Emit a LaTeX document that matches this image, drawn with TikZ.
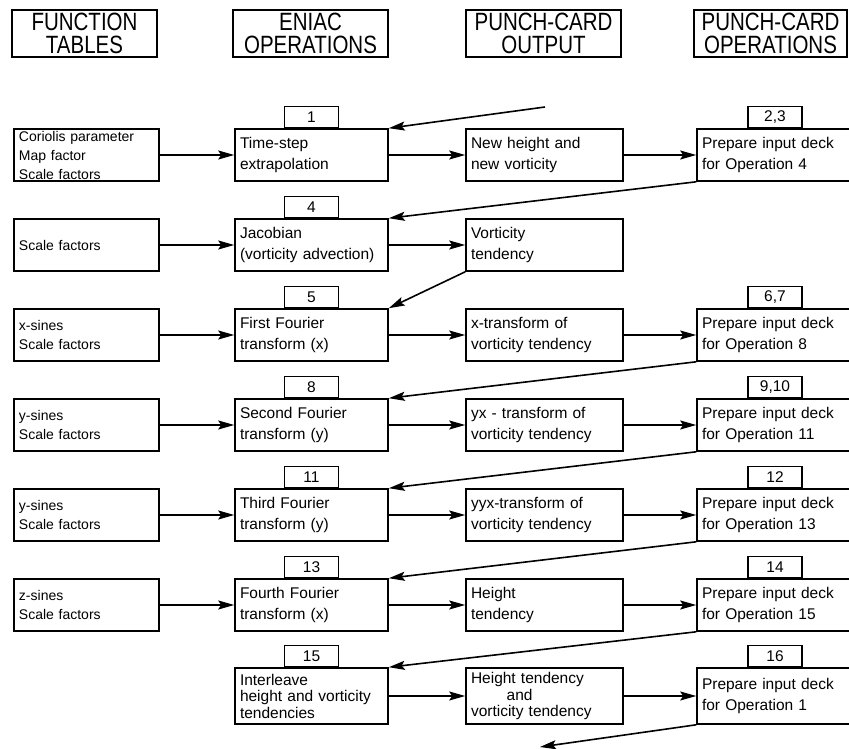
\documentclass[tikz,border=0pt]{standalone}
\usepackage{fontspec}
\setmainfont{Liberation Sans}
\newfontfamily\headfont[FakeStretch=0.82]{Liberation Sans}
\usetikzlibrary{arrows.meta, positioning}
\newcommand{\opfont}{\fontsize{15.5}{21}\selectfont}
\newcommand{\tabfont}{\fontsize{14}{19}\selectfont}
\newcommand{\tightfont}{\fontsize{15.5}{16.5}\selectfont}

\begin{document}
\begin{tikzpicture}[x=1pt, y=-1pt,
        box/.style={draw, line width=1.6pt, minimum height=52pt, inner xsep=5pt, inner ysep=2pt, align=left, font=\opfont},
        tabbox/.style={box, text width=135pt, font=\tabfont},
        eniacbox/.style={box, text width=143pt},
        cardbox/.style={box, text width=147pt},
        deckbox/.style={box, text width=146pt},
        numbox/.style={draw, line width=1.6pt, minimum width=54pt, minimum height=21pt, inner sep=0pt, anchor=south, font=\opfont},
        headbox/.style={draw, line width=1.6pt, minimum height=47pt, inner sep=0pt, align=center, font=\headfont\fontsize{25}{23.5}\selectfont},
        arrow/.style={-{Stealth[length=16pt, width=9pt, inset=3pt]}, line width=1.6pt}
    ]
        \useasboundingbox (0,0) rectangle (849,749);
        \clip (0,0) rectangle (849,749);

        % Column headings
        \node[headbox, minimum width=145pt] (htab) at (84.5,33.5) {FUNCTION\\TABLES};
        \node[headbox, minimum width=155pt] (heniac) at (310.5,33.5) {ENIAC\\OPERATIONS};
        \node[headbox, minimum width=155pt] (hcard) at (543.5,33.5) {PUNCH-CARD\\OUTPUT};
        \node[headbox, minimum width=153pt] (hdeck) at (770.5,33.5) {PUNCH-CARD\\OPERATIONS};

        % Row 1
        \node[tabbox] (tab1) at (86.5,155) {Coriolis parameter\\Map factor\\Scale factors};
        \node[eniacbox] (op1) at (311.5,155) {Time-step\\extrapolation};
        \node[numbox] (n1) at (op1.north) {1};
        \node[cardbox] (card1) at (544.5,155) {New height and\\new vorticity};
        \node[deckbox] (deck1) at (775,155) {Prepare input deck\\for Operation 4};
        \node[numbox] (n23) at (deck1.north) {2,3};

        % Row 2
        \node[tabbox] (tab2) at (86.5,245) {Scale factors};
        \node[eniacbox] (op4) at (311.5,245) {Jacobian\\(vorticity advection)};
        \node[numbox] (n4) at (op4.north) {4};
        \node[cardbox] (card2) at (544.5,245) {Vorticity\\tendency};

        % Row 3
        \node[tabbox] (tab3) at (86.5,335) {x-sines\\Scale factors};
        \node[eniacbox] (op5) at (311.5,335) {First Fourier\\transform (x)};
        \node[numbox] (n5) at (op5.north) {5};
        \node[cardbox] (card3) at (544.5,335) {x-transform of\\vorticity tendency};
        \node[deckbox] (deck3) at (775,335) {Prepare input deck\\for Operation 8};
        \node[numbox] (n67) at (deck3.north) {6,7};

        % Row 4
        \node[tabbox] (tab4) at (86.5,425) {y-sines\\Scale factors};
        \node[eniacbox] (op8) at (311.5,425) {Second Fourier\\transform (y)};
        \node[numbox] (n8) at (op8.north) {8};
        \node[cardbox] (card4) at (544.5,425) {yx - transform of\\vorticity tendency};
        \node[deckbox] (deck4) at (775,425) {Prepare input deck\\for Operation 11};
        \node[numbox] (n910) at (deck4.north) {9,10};

        % Row 5
        \node[tabbox] (tab5) at (86.5,515) {y-sines\\Scale factors};
        \node[eniacbox] (op11) at (311.5,515) {Third Fourier\\transform (y)};
        \node[numbox] (n11) at (op11.north) {11};
        \node[cardbox] (card5) at (544.5,515) {yyx-transform of\\vorticity tendency};
        \node[deckbox] (deck5) at (775,515) {Prepare input deck\\for Operation 13};
        \node[numbox] (n12) at (deck5.north) {12};

        % Row 6
        \node[tabbox] (tab6) at (86.5,605) {z-sines\\Scale factors};
        \node[eniacbox] (op13) at (311.5,605) {Fourth Fourier\\transform (x)};
        \node[numbox] (n13) at (op13.north) {13};
        \node[cardbox] (card6) at (544.5,605) {Height\\tendency};
        \node[deckbox] (deck6) at (775,605) {Prepare input deck\\for Operation 15};
        \node[numbox] (n14) at (deck6.north) {14};

        % Row 7
        \node[eniacbox, minimum height=56pt, font=\tightfont] (op15) at (311.5,696) {Interleave\\height and vorticity\\tendencies};
        \node[numbox] (n15) at (op15.north) {15};
        \node[cardbox, minimum height=56pt, font=\tightfont] (card7) at (544.5,696) {Height tendency\\\hspace*{2.3em}and\\vorticity tendency};
        \node[deckbox, minimum height=56pt] (deck7) at (775,696) {Prepare input deck\\for Operation 1};
        \node[numbox] (n16) at (deck7.north) {16};

        % Loop ends
        \coordinate (loopin) at (545,107);
        \coordinate (loopout) at (540,747);

        % Arrows - tables into ENIAC
        \draw[arrow] (tab1.east) -- (op1.west);
        \draw[arrow] (tab2.east) -- (op4.west);
        \draw[arrow] (tab3.east) -- (op5.west);
        \draw[arrow] (tab4.east) -- (op8.west);
        \draw[arrow] (tab5.east) -- (op11.west);
        \draw[arrow] (tab6.east) -- (op13.west);

        % Arrows - ENIAC to cards
        \draw[arrow] (op1.east) -- (card1.west);
        \draw[arrow] (op4.east) -- (card2.west);
        \draw[arrow] (op5.east) -- (card3.west);
        \draw[arrow] (op8.east) -- (card4.west);
        \draw[arrow] (op11.east) -- (card5.west);
        \draw[arrow] (op13.east) -- (card6.west);
        \draw[arrow] (op15.east) -- (card7.west);

        % Arrows - cards to card operations
        \draw[arrow] (card1.east) -- (deck1.west);
        \draw[arrow] (card3.east) -- (deck3.west);
        \draw[arrow] (card4.east) -- (deck4.west);
        \draw[arrow] (card5.east) -- (deck5.west);
        \draw[arrow] (card6.east) -- (deck6.west);
        \draw[arrow] (card7.east) -- (deck7.west);

        % Arrows - back to the next ENIAC operation
        \draw[arrow] (loopin) -- (op1.north east);
        \draw[arrow] (deck1.south west) -- (op4.north east);
        \draw[arrow] (card2.south west) -- (op5.north east);
        \draw[arrow] (deck3.south west) -- (op8.north east);
        \draw[arrow] (deck4.south west) -- (op11.north east);
        \draw[arrow] (deck5.south west) -- (op13.north east);
        \draw[arrow] (deck6.south west) -- (op15.north east);
        \draw[arrow] (deck7.south west) -- (loopout);
    \end{tikzpicture}
\end{document}
